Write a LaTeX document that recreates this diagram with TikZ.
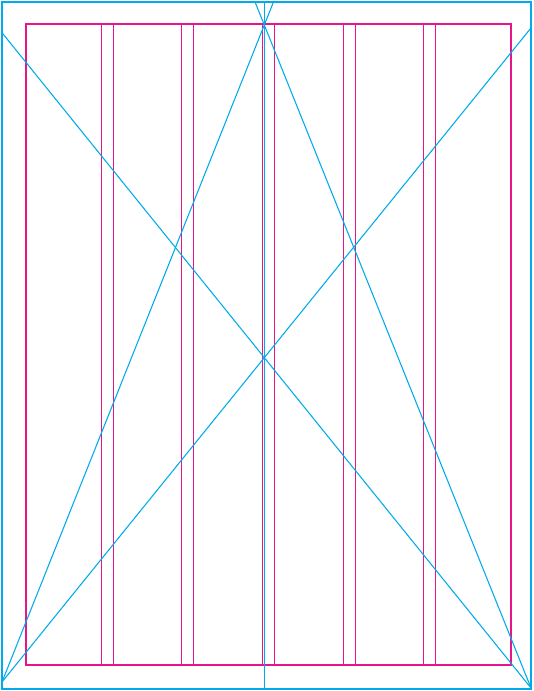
\documentclass[tikz,border=0pt]{standalone}
\usetikzlibrary{calc}
\definecolor{guideblue}{RGB}{0,170,235}
\definecolor{gridmagenta}{RGB}{232,20,140}
\begin{document}
\begin{tikzpicture}[x=0.75pt,y=-0.75pt]
	\def\gutter{12}
	\useasboundingbox (0,0) rectangle (533,691);

	% Margins and columns
	\draw[gridmagenta, line width=1.5pt] (25.5,24.5) rectangle (510.5,665);
	\foreach \x in {101.5,181.5,262.5,343.5,423.5}
		\draw[gridmagenta, line width=1.1pt] (\x,24.5) -- (\x,665)
			(\x+\gutter,24.5) -- (\x+\gutter,665);

	% Page
	\draw[guideblue, line width=1.6pt] (2.2,2.2) rectangle (531.2,688.8);
	\coordinate (tl) at (2,32.7);
	\coordinate (tr) at (531.2,27.7);
	\coordinate (bl) at (2,682);
	\coordinate (br) at (531,688);
	\coordinate (top) at (264.3,25);

	% Diagonals
	\draw[guideblue, line width=0.8pt] (tl) -- (br);
	\draw[guideblue, line width=0.8pt] (tr) -- (bl);
	\draw[guideblue, line width=0.8pt] (bl) -- ($(bl)!1.035!(top)$);
	\draw[guideblue, line width=0.8pt] (br) -- ($(br)!1.035!(top)$);
	\draw[guideblue, line width=0.8pt] (264.3,2.2) -- (264.3,688.8);
\end{tikzpicture}
\end{document}
